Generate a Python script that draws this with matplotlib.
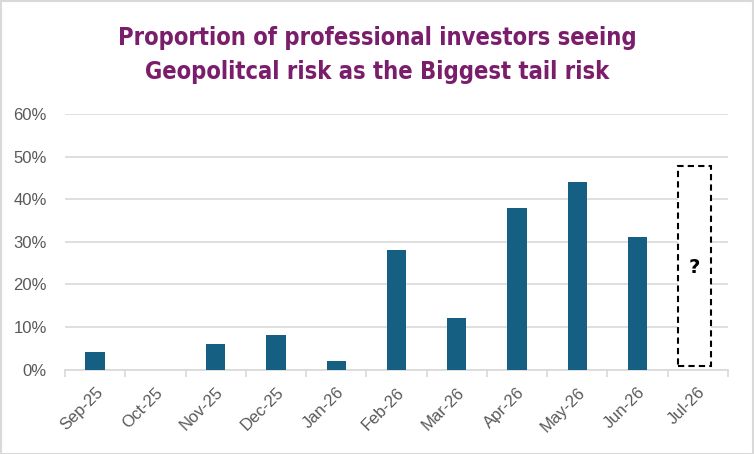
import matplotlib
matplotlib.use("Agg")
import matplotlib.pyplot as plt
from matplotlib.patches import Rectangle
import numpy as np

categories = ["Sep-25", "Oct-25", "Nov-25", "Dec-25", "Jan-26", "Feb-26",
              "Mar-26", "Apr-26", "May-26", "Jun-26", "Jul-26"]
values = [4, 0, 6, 8, 2, 28, 12, 38, 44, 31, None]
yticks = [0, 10, 20, 30, 40, 50, 60]
title = "Proportion of professional investors seeing\nGeopolitcal risk as the Biggest tail risk"
unknown_label = "?"
unknown_box = (0.8, 47.9)  # bottom, top in %

W, H = 754, 454
fig = plt.figure(figsize=(W / 100, H / 100), dpi=100)
fig.patch.set_facecolor("white")
# outer border
fig.add_artist(Rectangle((0.5 / W, 0.5 / H), 1 - 1.5 / W, 1 - 1.5 / H,
                         transform=fig.transFigure, fill=False,
                         edgecolor="#D9D9D9", linewidth=1.5))

left, right = 65 / W, 728 / W
bottom, top = 1 - 369.5 / H, 1 - 114 / H
ax = fig.add_axes([left, bottom, right - left, top - bottom])

x = np.arange(len(categories))
ax.set_xlim(-0.5, len(categories) - 0.5)
ax.set_ylim(0, 60)

vals = [v if v is not None else 0 for v in values]
mask = [v is not None for v in values]
ax.bar(x[mask], np.array(vals)[mask], width=0.32, color="#156082", zorder=3)

# dashed box for unknown July
jul = len(categories) - 1
b, t = unknown_box
ax.add_patch(Rectangle((jul - 0.33, b), 0.55, t - b, facecolor="white",
                       edgecolor="black", linestyle=(0, (3, 2)), linewidth=1.5,
                       zorder=4, clip_on=False))
ax.text(jul - 0.055, 24, unknown_label, ha="center", va="center",
        fontsize=14, fontweight="bold", color="black", zorder=5)

ax.set_yticks(yticks)
ax.set_yticklabels([f"{v}%" for v in yticks])
ax.yaxis.grid(True, color="#D9D9D9", linewidth=1.2, zorder=0)
ax.set_axisbelow(True)
for s in ["top", "right", "left"]:
    ax.spines[s].set_visible(False)
ax.spines["bottom"].set_color("#D9D9D9")
ax.spines["bottom"].set_linewidth(1.2)
ax.spines["bottom"].set_zorder(2)

ax.set_xticks(np.arange(len(categories) + 1) - 0.5, minor=True)
ax.set_xticks(x)
ax.set_xticklabels(categories, rotation=45, ha="right", rotation_mode="anchor")
ax.tick_params(axis="x", which="major", length=0, pad=11, labelsize=12,
               labelcolor="#595959")
ax.tick_params(axis="x", which="minor", length=5, color="#D9D9D9", width=1.2)
ax.tick_params(axis="y", length=0, pad=13, labelsize=12, labelcolor="#595959")
for lbl in ax.get_xticklabels():
    lbl.set_family(["Liberation Sans", "DejaVu Sans"])
for lbl in ax.get_yticklabels():
    lbl.set_family(["Liberation Sans", "DejaVu Sans"])

fig.text(0.5, 1 - 55 / H, title, ha="center", va="center", fontsize=17,
         fontweight="bold", fontstretch="condensed", color="#7A1E6C",
         linespacing=1.55, family=["DejaVu Sans"])

fig.savefig("out.png", dpi=100, facecolor="white")
